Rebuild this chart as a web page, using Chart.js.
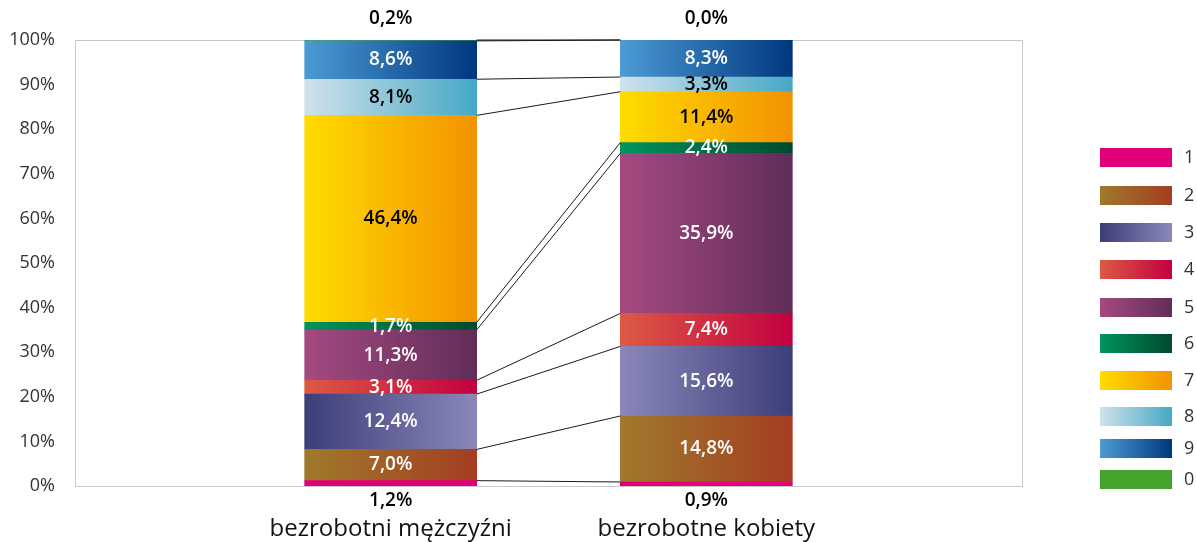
<!DOCTYPE html>
<html lang="pl">
<head>
<meta charset="UTF-8">
<title>Bezrobotni wg grup</title>
<script src="https://cdn.jsdelivr.net/npm/chart.js"></script>
<style>
  html, body { margin: 0; padding: 0; background: #fff; }
  .wrap { width: 1197px; height: 542px; }
</style>
</head>
<body>
<div class="wrap"><canvas id="chart" width="1197" height="542"></canvas></div>
<script>
// data
const categories = ['bezrobotni mężczyźni', 'bezrobotne kobiety'];
const seriesNames = ['1', '2', '3', '4', '5', '6', '7', '8', '9', '0'];
const menValues = [1.2, 7.0, 12.4, 3.1, 11.3, 1.7, 46.4, 8.1, 8.6, 0.2];
const womenValues = [0.9, 14.8, 15.6, 7.4, 35.9, 2.4, 11.4, 3.3, 8.3, 0.0];
const yTicks = [0, 10, 20, 30, 40, 50, 60, 70, 80, 90, 100];

// styles
const leftColors  = ['#e2007a', '#9f7a2b', '#3c3e78', '#dc5a45', '#a54a80', '#00945f', '#ffdc00', '#d0e2eb', '#4c9bd3', '#48a22e'];
const rightColors = ['#e2007a', '#a43d22', '#8a88b9', '#c3003f', '#612d58', '#004a2d', '#f39200', '#45a8c6', '#00377f', '#48a22e'];
// series 3 runs the other way on the second bar
const flipOnWomen = [false, false, true, false, false, false, false, false, false, false];
const darkText = [false, false, false, false, false, false, true, true, false, false];
const legendY = [148, 186, 223, 260, 298, 334, 371, 407, 439, 470];
const BAR_W = 172;
const FONT = '"Open Sans", "Noto Sans", sans-serif';

function fmt(v) { return v.toFixed(1).replace('.', ',') + '%'; }

function barGradient(ctx, si) {
  const chart = ctx.chart;
  if (!chart.chartArea) return leftColors[si];
  const cx = chart.scales.x.getPixelForTick(ctx.dataIndex);
  let a = leftColors[si], b = rightColors[si];
  if (ctx.dataIndex === 2 && flipOnWomen[si]) { const t = a; a = b; b = t; }
  const g = chart.ctx.createLinearGradient(cx - BAR_W / 2, 0, cx + BAR_W / 2, 0);
  g.addColorStop(0, a);
  g.addColorStop(1, b);
  return g;
}

const datasets = seriesNames.map((name, i) => ({
  label: name,
  data: [null, menValues[i], womenValues[i], null],
  backgroundColor: (ctx) => barGradient(ctx, i),
  borderWidth: 0,
  barThickness: BAR_W
}));

const framePlugin = {
  id: 'frame',
  beforeDatasetsDraw(chart) {
    const { ctx, chartArea: a } = chart;
    ctx.save();
    ctx.strokeStyle = '#c8c8c8';
    ctx.lineWidth = 1;
    ctx.strokeRect(a.left + 0.5, a.top + 0.5, a.right - a.left, a.bottom - a.top);
    ctx.restore();
  }
};

const seriesLinesPlugin = {
  id: 'seriesLines',
  afterDatasetsDraw(chart) {
    const ctx = chart.ctx;
    ctx.save();
    ctx.strokeStyle = '#1a1a1a';
    ctx.lineWidth = 1;
    chart.data.datasets.forEach((ds, i) => {
      const meta = chart.getDatasetMeta(i);
      const m = meta.data[1], w = meta.data[2];
      if (!m || !w) return;
      ctx.beginPath();
      ctx.moveTo(m.x + m.width / 2, m.y);
      ctx.lineTo(w.x - w.width / 2, w.y);
      ctx.stroke();
    });
    ctx.restore();
  }
};

const valueLabelsPlugin = {
  id: 'valueLabels',
  afterDatasetsDraw(chart) {
    const ctx = chart.ctx;
    const area = chart.chartArea;
    ctx.save();
    ctx.font = '600 19px ' + FONT;
    ctx.textAlign = 'center';
    ctx.textBaseline = 'middle';
    const last = chart.data.datasets.length - 1;
    chart.data.datasets.forEach((ds, i) => {
      const meta = chart.getDatasetMeta(i);
      [1, 2].forEach(idx => {
        const el = meta.data[idx];
        const v = ds.data[idx];
        let y, color;
        if (i === 0) { y = area.bottom + 15; color = '#000'; }
        else if (i === last) { y = area.top - 21; color = '#000'; }
        else { y = (el.y + el.base) / 2; color = darkText[i] ? '#000' : '#fff'; }
        ctx.fillStyle = color;
        ctx.fillText(fmt(v), el.x, y);
      });
    });
    ctx.restore();
  }
};

const legendPlugin = {
  id: 'sideLegend',
  afterDraw(chart) {
    const ctx = chart.ctx;
    ctx.save();
    seriesNames.forEach((name, i) => {
      const y = legendY[i];
      const g = ctx.createLinearGradient(1100, 0, 1172, 0);
      g.addColorStop(0, leftColors[i]);
      g.addColorStop(1, rightColors[i]);
      ctx.fillStyle = g;
      ctx.fillRect(1100, y, 72, 19);
      ctx.fillStyle = '#333';
      ctx.font = '18px ' + FONT;
      ctx.textAlign = 'left';
      ctx.textBaseline = 'middle';
      ctx.fillText(name, 1184, y + 10);
    });
    ctx.restore();
  }
};

new Chart(document.getElementById('chart'), {
  type: 'bar',
  data: { labels: ['', ...categories, ''], datasets },
  options: {
    responsive: false,
    animation: false,
    layout: { padding: { left: 0, right: 175, top: 40, bottom: 0 } },
    plugins: { legend: { display: false }, tooltip: { enabled: false } },
    scales: {
      x: {
        stacked: true,
        offset: false,
        grid: { display: false, drawTicks: false },
        border: { display: false },
        ticks: { color: '#111', font: { family: FONT, size: 24 }, padding: 29, maxRotation: 0, autoSkip: false },
        afterFit(s) { s.height = 56; }
      },
      y: {
        stacked: true,
        min: 0,
        max: 100,
        grid: { display: false, drawTicks: false },
        border: { display: false },
        afterBuildTicks(s) { s.ticks = yTicks.map(v => ({ value: v })); },
        ticks: { color: '#333', font: { family: FONT, size: 18 }, padding: 20, callback: v => v + '%' },
        afterFit(s) { s.width = 75; }
      }
    }
  },
  plugins: [framePlugin, seriesLinesPlugin, valueLabelsPlugin, legendPlugin]
});
</script>
</body>
</html>
